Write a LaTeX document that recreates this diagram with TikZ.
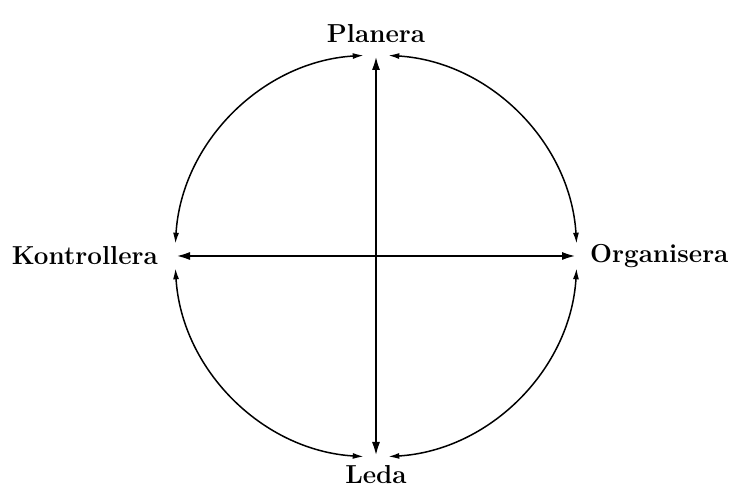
\documentclass[tikz,border=0pt]{standalone}
\usetikzlibrary{positioning,arrows.meta}

\begin{document}
\begin{tikzpicture}[x=1pt,y=1pt,
  label/.style={inner sep=0pt, font=\fontsize{26}{30}\selectfont\bfseries},
  ring/.style={{Latex[length=11pt,width=6pt]}-{Latex[length=11pt,width=6pt]}, line width=1.5pt},
  axis/.style={{Latex[length=15pt,width=8pt]}-{Latex[length=15pt,width=8pt]}, line width=2.8pt}]

\useasboundingbox (0,0) rectangle (734,495);

\coordinate (o) at (376,239);
\coordinate (n) at (376,440);
\coordinate (s) at (376,38);
\coordinate (w) at (175,239);
\coordinate (e) at (577,239);

\node[label, above=12pt of n] (planera){Planera};
\node[label, below=8pt of s] (leda){Leda};
\node[label, left=17pt of w] (kontrollera){Kontrollera};
\node[label, right=13pt of e] (organisera){Organisera};

% the four arcs
\foreach \a in {0,90,180,270}
  \draw[ring] ([shift={(\a+3.5:201)}]o) arc (\a+3.5:\a+86.5:201);

\draw[axis](n)--(s);
\draw[axis](w)--(e);

\end{tikzpicture}
\end{document}
